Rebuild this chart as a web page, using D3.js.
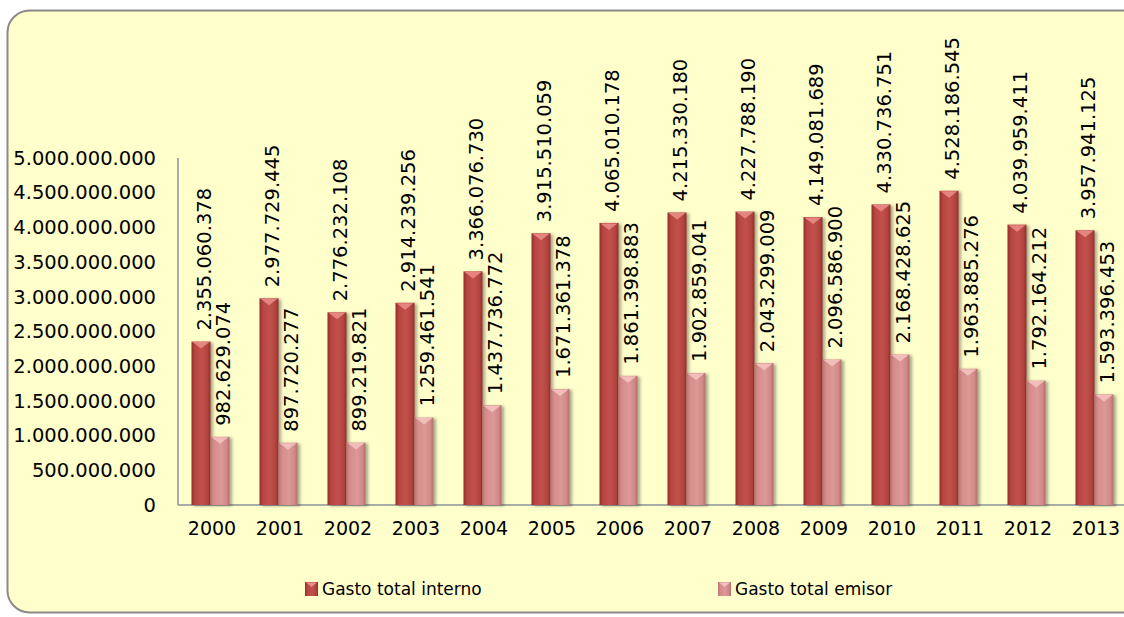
<!DOCTYPE html>
<html><head><meta charset="utf-8">
<script src="https://cdn.jsdelivr.net/npm/d3@7"></script>
<style>body{margin:0;background:#fff;}svg{display:block;}</style>
</head><body>
<script>
const years = ["2000","2001","2002","2003","2004","2005","2006","2007","2008","2009","2010","2011","2012","2013"];
const interno = [2355060378, 2977729445, 2776232108, 2914239256, 3366076730, 3915510059, 4065010178, 4215330180, 4227788190, 4149081689, 4330736751, 4528186545, 4039959411, 3957941125];
const emisor = [982629074, 897720277, 899219821, 1259461541, 1437736772, 1671361378, 1861398883, 1902859041, 2043299009, 2096586900, 2168428625, 1963885276, 1792164212, 1593396453];
const seriesNames = ["Gasto total interno", "Gasto total emisor"];
const yTicks = [0, 500000000, 1000000000, 1500000000, 2000000000, 2500000000, 3000000000, 3500000000, 4000000000, 4500000000, 5000000000];

const W = 1124, H = 617;
const FONT = "DejaVu Sans";
const loc = d3.formatLocale({decimal: ",", thousands: ".", grouping: [3], currency: ["", ""]});
const fmt = loc.format(",d");

const svg = d3.select("body").append("svg").attr("width", W).attr("height", H);
const defs = svg.append("defs");

function hGrad(id, stops) {
  const g = defs.append("linearGradient").attr("id", id).attr("x1", "0").attr("x2", "1").attr("y1", "0").attr("y2", "0");
  stops.forEach(s => g.append("stop").attr("offset", s[0]).attr("stop-color", s[1]));
}
hGrad("gRed", [[0, "#8f2f2b"], [0.18, "#b8453f"], [0.55, "#c1514c"], [0.85, "#b2433e"], [1, "#8c2c28"]]);
hGrad("gPink", [[0, "#b87573"], [0.18, "#d48d8b"], [0.55, "#dc9997"], [0.85, "#d18886"], [1, "#b06c6a"]]);
const f = defs.append("filter").attr("id", "sh").attr("x", "-30%").attr("y", "-5%").attr("width", "170%").attr("height", "115%");
f.append("feDropShadow").attr("dx", 2.5).attr("dy", 1).attr("stdDeviation", 1.6).attr("flood-color", "#000").attr("flood-opacity", 0.35);

// background panel
svg.append("rect").attr("x", 7.5).attr("y", 10.5).attr("width", 1140).attr("height", 602)
  .attr("rx", 22).attr("ry", 22).attr("fill", "#ffffcc").attr("stroke", "#8a8a8a").attr("stroke-width", 2);

const x0 = 178, y0 = 505, yTop = 158;
const x = d3.scaleBand().domain(years).range([x0, x0 + 68 * years.length]).padding(0);
const y = d3.scaleLinear().domain([0, 5000000000]).range([y0, yTop]);
const barW = 19;
const sub = d3.scaleBand().domain([0, 1]).range([0, 2 * barW]).padding(0);

// axis lines
svg.append("line").attr("x1", x0).attr("x2", x0).attr("y1", yTop).attr("y2", y0).attr("stroke", "#8e909c").attr("stroke-width", 1.5);
svg.append("line").attr("x1", x0).attr("x2", W + 20).attr("y1", y0).attr("y2", y0).attr("stroke", "#8e909c").attr("stroke-width", 1.5);

// y axis labels
const yAxis = d3.axisLeft(y).tickValues(yTicks).tickFormat(fmt).tickSize(0).tickPadding(22);
const gy = svg.append("g").attr("transform", `translate(${x0},0)`).call(yAxis);
gy.select(".domain").remove();
gy.selectAll("text").attr("font-family", FONT).attr("font-size", 19.5).attr("fill", "#000");

// x axis labels
const xAxis = d3.axisBottom(x).tickSize(0).tickPadding(17);
const gx = svg.append("g").attr("transform", `translate(0,${y0})`).call(xAxis);
gx.select(".domain").remove();
gx.selectAll("text").attr("font-family", FONT).attr("font-size", 19).attr("fill", "#000");

const series = [interno, emisor];
const fills = ["url(#gRed)", "url(#gPink)"];
const capFill = ["#e98b86", "#f3c2c0"];

series.forEach((vals, si) => {
  const g = svg.append("g");
  vals.forEach((v, i) => {
    const bx = x(years[i]) + x.bandwidth() / 2 - barW - 1.5 + sub(si);
    const top = y(v);
    g.append("rect").attr("x", bx).attr("y", top).attr("width", barW).attr("height", y0 - top)
      .attr("fill", fills[si]).attr("filter", "url(#sh)");
    // top bevel
    g.append("polygon")
      .attr("points", `${bx + 1},${top + 0.5} ${bx + barW - 1},${top + 0.5} ${bx + barW / 2},${top + 7}`)
      .attr("fill", capFill[si]).attr("opacity", 0.9);
  });
});

// data labels
series.forEach((vals, si) => {
  vals.forEach((v, i) => {
    const cx = x(years[i]) + x.bandwidth() / 2 - barW - 1.5 + sub(si) + barW / 2 + 3;
    const ty = y(v) - 11;
    svg.append("text").attr("transform", `translate(${cx},${ty}) rotate(-90)`)
      .attr("dy", "0.36em").attr("text-anchor", "start")
      .attr("font-family", FONT).attr("font-size", 19.5).attr("fill", "#000")
      .text(fmt(v));
  });
});

// legend
const legX = [305, 718];
seriesNames.forEach((n, si) => {
  const lg = svg.append("g").attr("transform", `translate(${legX[si]},582)`);
  lg.append("rect").attr("width", 13).attr("height", 14).attr("fill", fills[si]);
  lg.append("polygon").attr("points", `1,0.5 12,0.5 6.5,5`).attr("fill", capFill[si]);
  lg.append("text").attr("x", 17).attr("y", 7).attr("dy", "0.36em")
    .attr("font-family", FONT).attr("font-size", 17).attr("fill", "#000").text(n);
});
</script>
</body></html>
